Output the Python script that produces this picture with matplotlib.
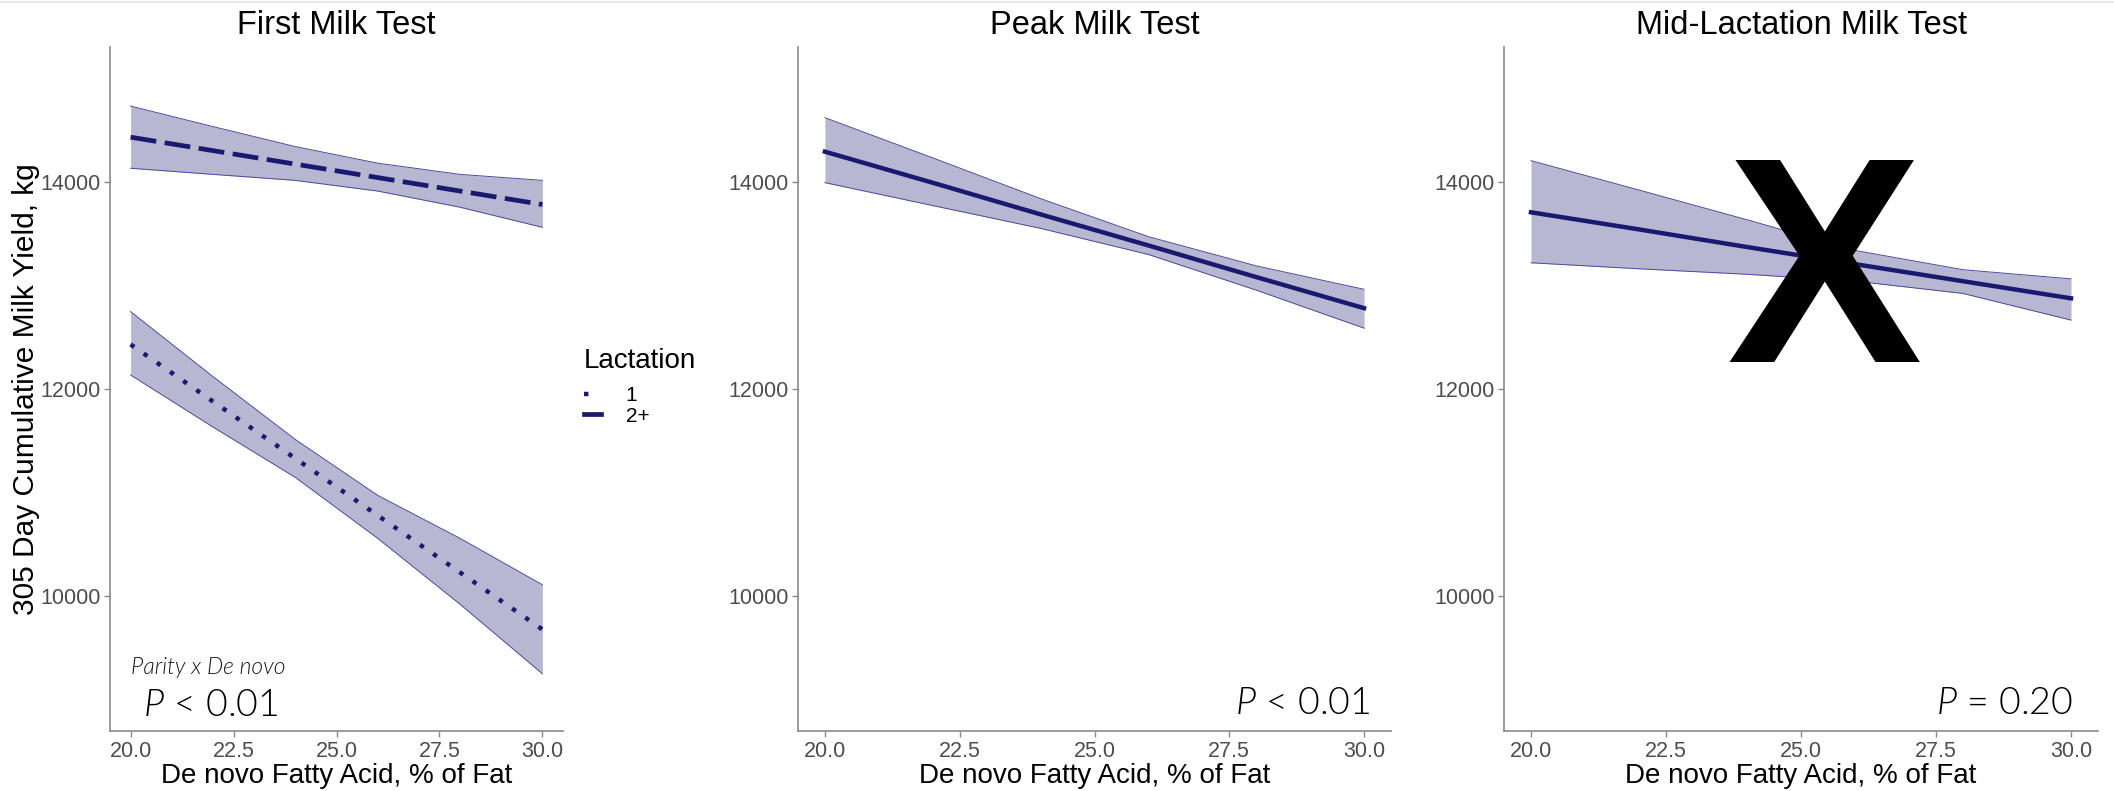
import matplotlib
matplotlib.use("Agg")
import matplotlib.pyplot as plt
from matplotlib import font_manager
from matplotlib.lines import Line2D

# ---- data ----
de_novo = [20, 22, 24, 26, 28, 30]

# First milk test, by lactation
lact1_fit = [12430, 11880, 11330, 10780, 10230, 9680]
lact1_lo = [12135, 11633, 11147, 10559, 9923, 9252]
lact1_hi = [12747, 12120, 11513, 10974, 10559, 10111]
lact2_fit = [14430, 14300, 14170, 14040, 13910, 13780]
lact2_lo = [14130, 14071, 14013, 13910, 13754, 13560]
lact2_hi = [14730, 14532, 14339, 14179, 14071, 14013]

# Peak milk test
peak_fit = [14290, 13990, 13685, 13385, 13080, 12780]
peak_lo = [13991, 13770, 13550, 13298, 12954, 12587]
peak_hi = [14618, 14230, 13837, 13470, 13188, 12962]

# Mid-lactation milk test
mid_fit = [13705, 13540, 13370, 13205, 13040, 12875]
mid_lo = [13218, 13160, 13107, 13041, 12922, 12665]
mid_hi = [14203, 13920, 13633, 13337, 13151, 13063]

titles = ["First Milk Test", "Peak Milk Test", "Mid-Lactation Milk Test"]
p_labels = ["$P$ < 0.01", "$P$ < 0.01", "$P$ = 0.20"]
lact_labels = ["1", "2+"]
x_ticks = [20, 22.5, 25, 27.5, 30]
y_ticks = [10000, 12000, 14000]

LINE = "#191970"
EDGE = "#4B4B9A"
GREY_TXT = "#4D4D4D"
AXIS = "#8A8A8A"

installed = {f.name for f in font_manager.fontManager.ttflist}
P_FONT = "Lato" if "Lato" in installed else "DejaVu Sans"

plt.rcParams.update(
    {
        "font.family": ["Liberation Sans", "DejaVu Sans"],
        "mathtext.fontset": "custom",
        "mathtext.rm": f"{P_FONT}:weight=300",
        "mathtext.it": f"{P_FONT}:italic:weight=300",
    }
)

W, H = 2114, 791
fig = plt.figure(figsize=(W / 100, H / 100), dpi=100)

# axes boxes in pixels: left, right ; shared top/bottom
boxes = [(110, 563), (798, 1391), (1504, 2098)]
top_px, bot_px = 47, 731


def style_axes(ax, title):
    ax.set_xlim(19.5, 30.5)
    ax.set_ylim(8700, 15300)
    ax.set_xticks(x_ticks, [f"{t:.1f}" for t in x_ticks])
    ax.set_yticks(y_ticks, [str(t) for t in y_ticks])
    ax.tick_params(labelsize=15.5, labelcolor=GREY_TXT, color=AXIS, length=4, width=1.0, pad=3)
    for side in ["top", "right"]:
        ax.spines[side].set_visible(False)
    for side in ["left", "bottom"]:
        ax.spines[side].set_color(AXIS)
        ax.spines[side].set_linewidth(1.2)
    ax.set_title(title, fontsize=23.5, pad=9)
    ax.set_xlabel("De novo Fatty Acid, % of Fat", fontsize=20, labelpad=1)


def band(ax, lo, hi, fit, **line_kw):
    ax.fill_between(de_novo, lo, hi, color=LINE, alpha=0.31, linewidth=0)
    ax.plot(de_novo, lo, color=EDGE, lw=0.7)
    ax.plot(de_novo, hi, color=EDGE, lw=0.7)
    return ax.plot(de_novo, fit, color=LINE, **line_kw)[0]


axes = []
for (l, r), title in zip(boxes, titles):
    ax = fig.add_axes([l / W, 1 - bot_px / H, (r - l) / W, (bot_px - top_px) / H])
    style_axes(ax, title)
    axes.append(ax)

# panel 1
ax = axes[0]
band(ax, lact1_lo, lact1_hi, lact1_fit, lw=3.2, dashes=(1.0, 2.6))
band(ax, lact2_lo, lact2_hi, lact2_fit, lw=3.4, dashes=(5.5, 1.8))
ax.set_ylabel("305 Day Cumulative Milk Yield, kg", fontsize=21.5, labelpad=0)
ax.text(20.0, 9246, "Parity x De novo", fontsize=16.5, style="italic", weight=300,
        family=P_FONT, color="#1a1a1a", va="baseline")
ax.text(20.3, 8840, p_labels[0], fontsize=27, family=P_FONT, weight=300, va="baseline")

# legend keys: one dot for "1", one dash for "2+"
key1 = Line2D([], [], color=LINE, lw=3.2, dashes=(1.0, 6.0))
key2 = Line2D([], [], color=LINE, lw=3.4)
leg = fig.legend([key1, key2], lact_labels, title="Lactation", loc="upper left",
                 bbox_to_anchor=(584 / W, 1 - 348 / H), frameon=False,
                 fontsize=15, title_fontsize=20, handlelength=0.8,
                 handletextpad=1.2, labelspacing=0.05, borderpad=0,
                 borderaxespad=0)
leg._legend_box.align = "left"
leg._legend_box.sep = 9

# panel 2
ax = axes[1]
band(ax, peak_lo, peak_hi, peak_fit, lw=3.2)
ax.text(30.12, 8860, p_labels[1], fontsize=27, family=P_FONT, weight=300,
        ha="right", va="baseline")

# panel 3
ax = axes[2]
band(ax, mid_lo, mid_hi, mid_fit, lw=3.2)
ax.text(30.03, 8860, p_labels[2], fontsize=27, family=P_FONT, weight=300,
        ha="right", va="baseline")
ax.text(25.42, 12261, "X", fontsize=211, fontweight="bold", ha="center",
        va="baseline", color="black")

fig.add_artist(Line2D([0, 1], [0.998, 0.998], color="#E8E8E8", lw=1.5))

fig.savefig("out.png", dpi=100)
